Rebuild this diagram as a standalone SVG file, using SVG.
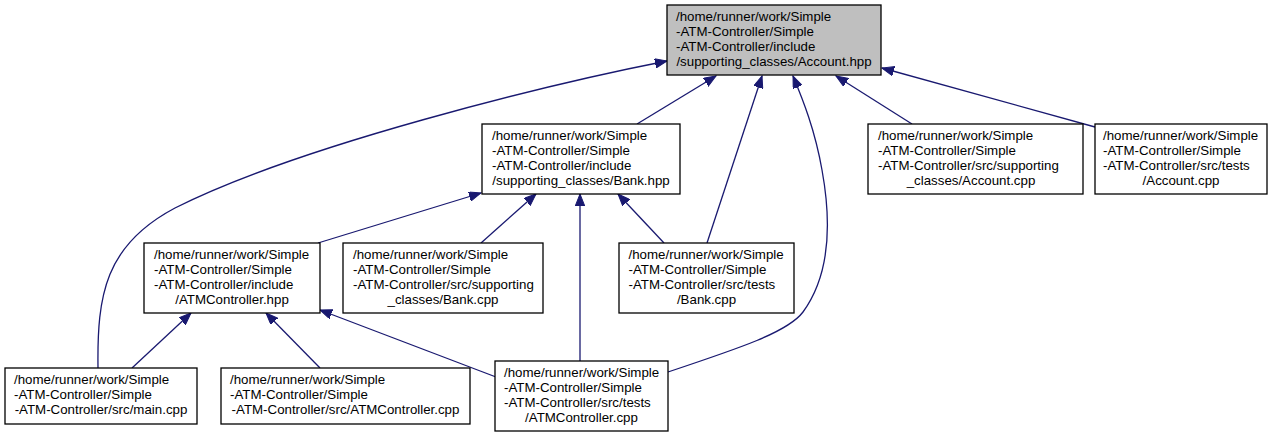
<svg xmlns="http://www.w3.org/2000/svg" width="1273" height="437" viewBox="0 0 1273 437">
<style>
.box{fill:#ffffff;stroke:#000000;stroke-width:1.3}
.root{fill:#bfbfbf;stroke:#000000;stroke-width:1.3}
text{font-family:"Liberation Sans",Arial,sans-serif;font-size:13.3px;fill:#000000}
.m{text-anchor:middle}
.e{fill:none;stroke:#191970;stroke-width:1.3;marker-end:url(#ah)}
</style>
<defs>
<marker id="ah" markerUnits="userSpaceOnUse" markerWidth="13" markerHeight="10" refX="12" refY="4.75" orient="auto">
<path d="M0,0 L12,4.75 L0,9.5 z" fill="#191970" stroke="#191970" stroke-width="1"/>
</marker>
</defs>
<rect width="1273" height="437" fill="#ffffff"/>
<g id="connectors">
<path class="e" d="M98,368 C97,295 105,245 175,208 C300,145 550,84 667,61"/>
<path class="e" d="M637,124 L716,76"/>
<path class="e" d="M707,243 L762,76"/>
<path class="e" d="M668,372 C740,348 788,332 803,312 C830,275 832,225 822,170 C815,130 803,100 793,76"/>
<path class="e" d="M912,124 L836,76"/>
<path class="e" d="M1095,127 L882,68"/>
<path class="e" d="M318,243 L481,193"/>
<path class="e" d="M481,243 L536,194"/>
<path class="e" d="M580,361 L580,194"/>
<path class="e" d="M664,243 L618,194"/>
<path class="e" d="M132,368 L191,313"/>
<path class="e" d="M320,368 L266,313"/>
<path class="e" d="M496,377 L320,310"/>
</g>
<g id="node1">
<rect class="root" x="667" y="5" width="214" height="70"/>
<text x="676" y="21">/home/runner/work/Simple</text>
<text x="676" y="36">-ATM-Controller/Simple</text>
<text x="676" y="51">-ATM-Controller/include</text>
<text class="m" x="774" y="66">/supporting_classes/Account.hpp</text>
</g>
<g id="node2">
<rect class="box" x="482" y="124" width="198" height="70"/>
<text x="492" y="140">/home/runner/work/Simple</text>
<text x="492" y="155">-ATM-Controller/Simple</text>
<text x="492" y="170">-ATM-Controller/include</text>
<text class="m" x="581" y="185">/supporting_classes/Bank.hpp</text>
</g>
<g id="node3">
<rect class="box" x="868" y="124" width="215" height="70"/>
<text x="878" y="140">/home/runner/work/Simple</text>
<text x="878" y="155">-ATM-Controller/Simple</text>
<text x="878" y="170">-ATM-Controller/src/supporting</text>
<text class="m" x="971" y="185">_classes/Account.cpp</text>
</g>
<g id="node4">
<rect class="box" x="1095" y="124" width="172" height="70"/>
<text x="1103" y="140">/home/runner/work/Simple</text>
<text x="1103" y="155">-ATM-Controller/Simple</text>
<text x="1103" y="170">-ATM-Controller/src/tests</text>
<text class="m" x="1181" y="185">/Account.cpp</text>
</g>
<g id="node5">
<rect class="box" x="144" y="243" width="176" height="70"/>
<text x="154" y="259">/home/runner/work/Simple</text>
<text x="154" y="274">-ATM-Controller/Simple</text>
<text x="154" y="289">-ATM-Controller/include</text>
<text class="m" x="232" y="304">/ATMController.hpp</text>
</g>
<g id="node6">
<rect class="box" x="343" y="243" width="200" height="70"/>
<text x="353" y="259">/home/runner/work/Simple</text>
<text x="353" y="274">-ATM-Controller/Simple</text>
<text x="353" y="289">-ATM-Controller/src/supporting</text>
<text class="m" x="443" y="304">_classes/Bank.cpp</text>
</g>
<g id="node7">
<rect class="box" x="619" y="243" width="175" height="70"/>
<text x="628.5" y="259">/home/runner/work/Simple</text>
<text x="628.5" y="274">-ATM-Controller/Simple</text>
<text x="628.5" y="289">-ATM-Controller/src/tests</text>
<text class="m" x="706.5" y="304">/Bank.cpp</text>
</g>
<g id="node8">
<rect class="box" x="5" y="368" width="192" height="56"/>
<text x="14" y="384">/home/runner/work/Simple</text>
<text x="14" y="399">-ATM-Controller/Simple</text>
<text class="m" x="101" y="414">-ATM-Controller/src/main.cpp</text>
</g>
<g id="node9">
<rect class="box" x="221" y="368" width="249" height="56"/>
<text x="230" y="384">/home/runner/work/Simple</text>
<text x="230" y="399">-ATM-Controller/Simple</text>
<text class="m" x="345.5" y="414">-ATM-Controller/src/ATMController.cpp</text>
</g>
<g id="node10">
<rect class="box" x="495" y="361" width="173" height="70"/>
<text x="504" y="377">/home/runner/work/Simple</text>
<text x="504" y="392">-ATM-Controller/Simple</text>
<text x="504" y="407">-ATM-Controller/src/tests</text>
<text class="m" x="581.5" y="422">/ATMController.cpp</text>
</g>
</svg>
